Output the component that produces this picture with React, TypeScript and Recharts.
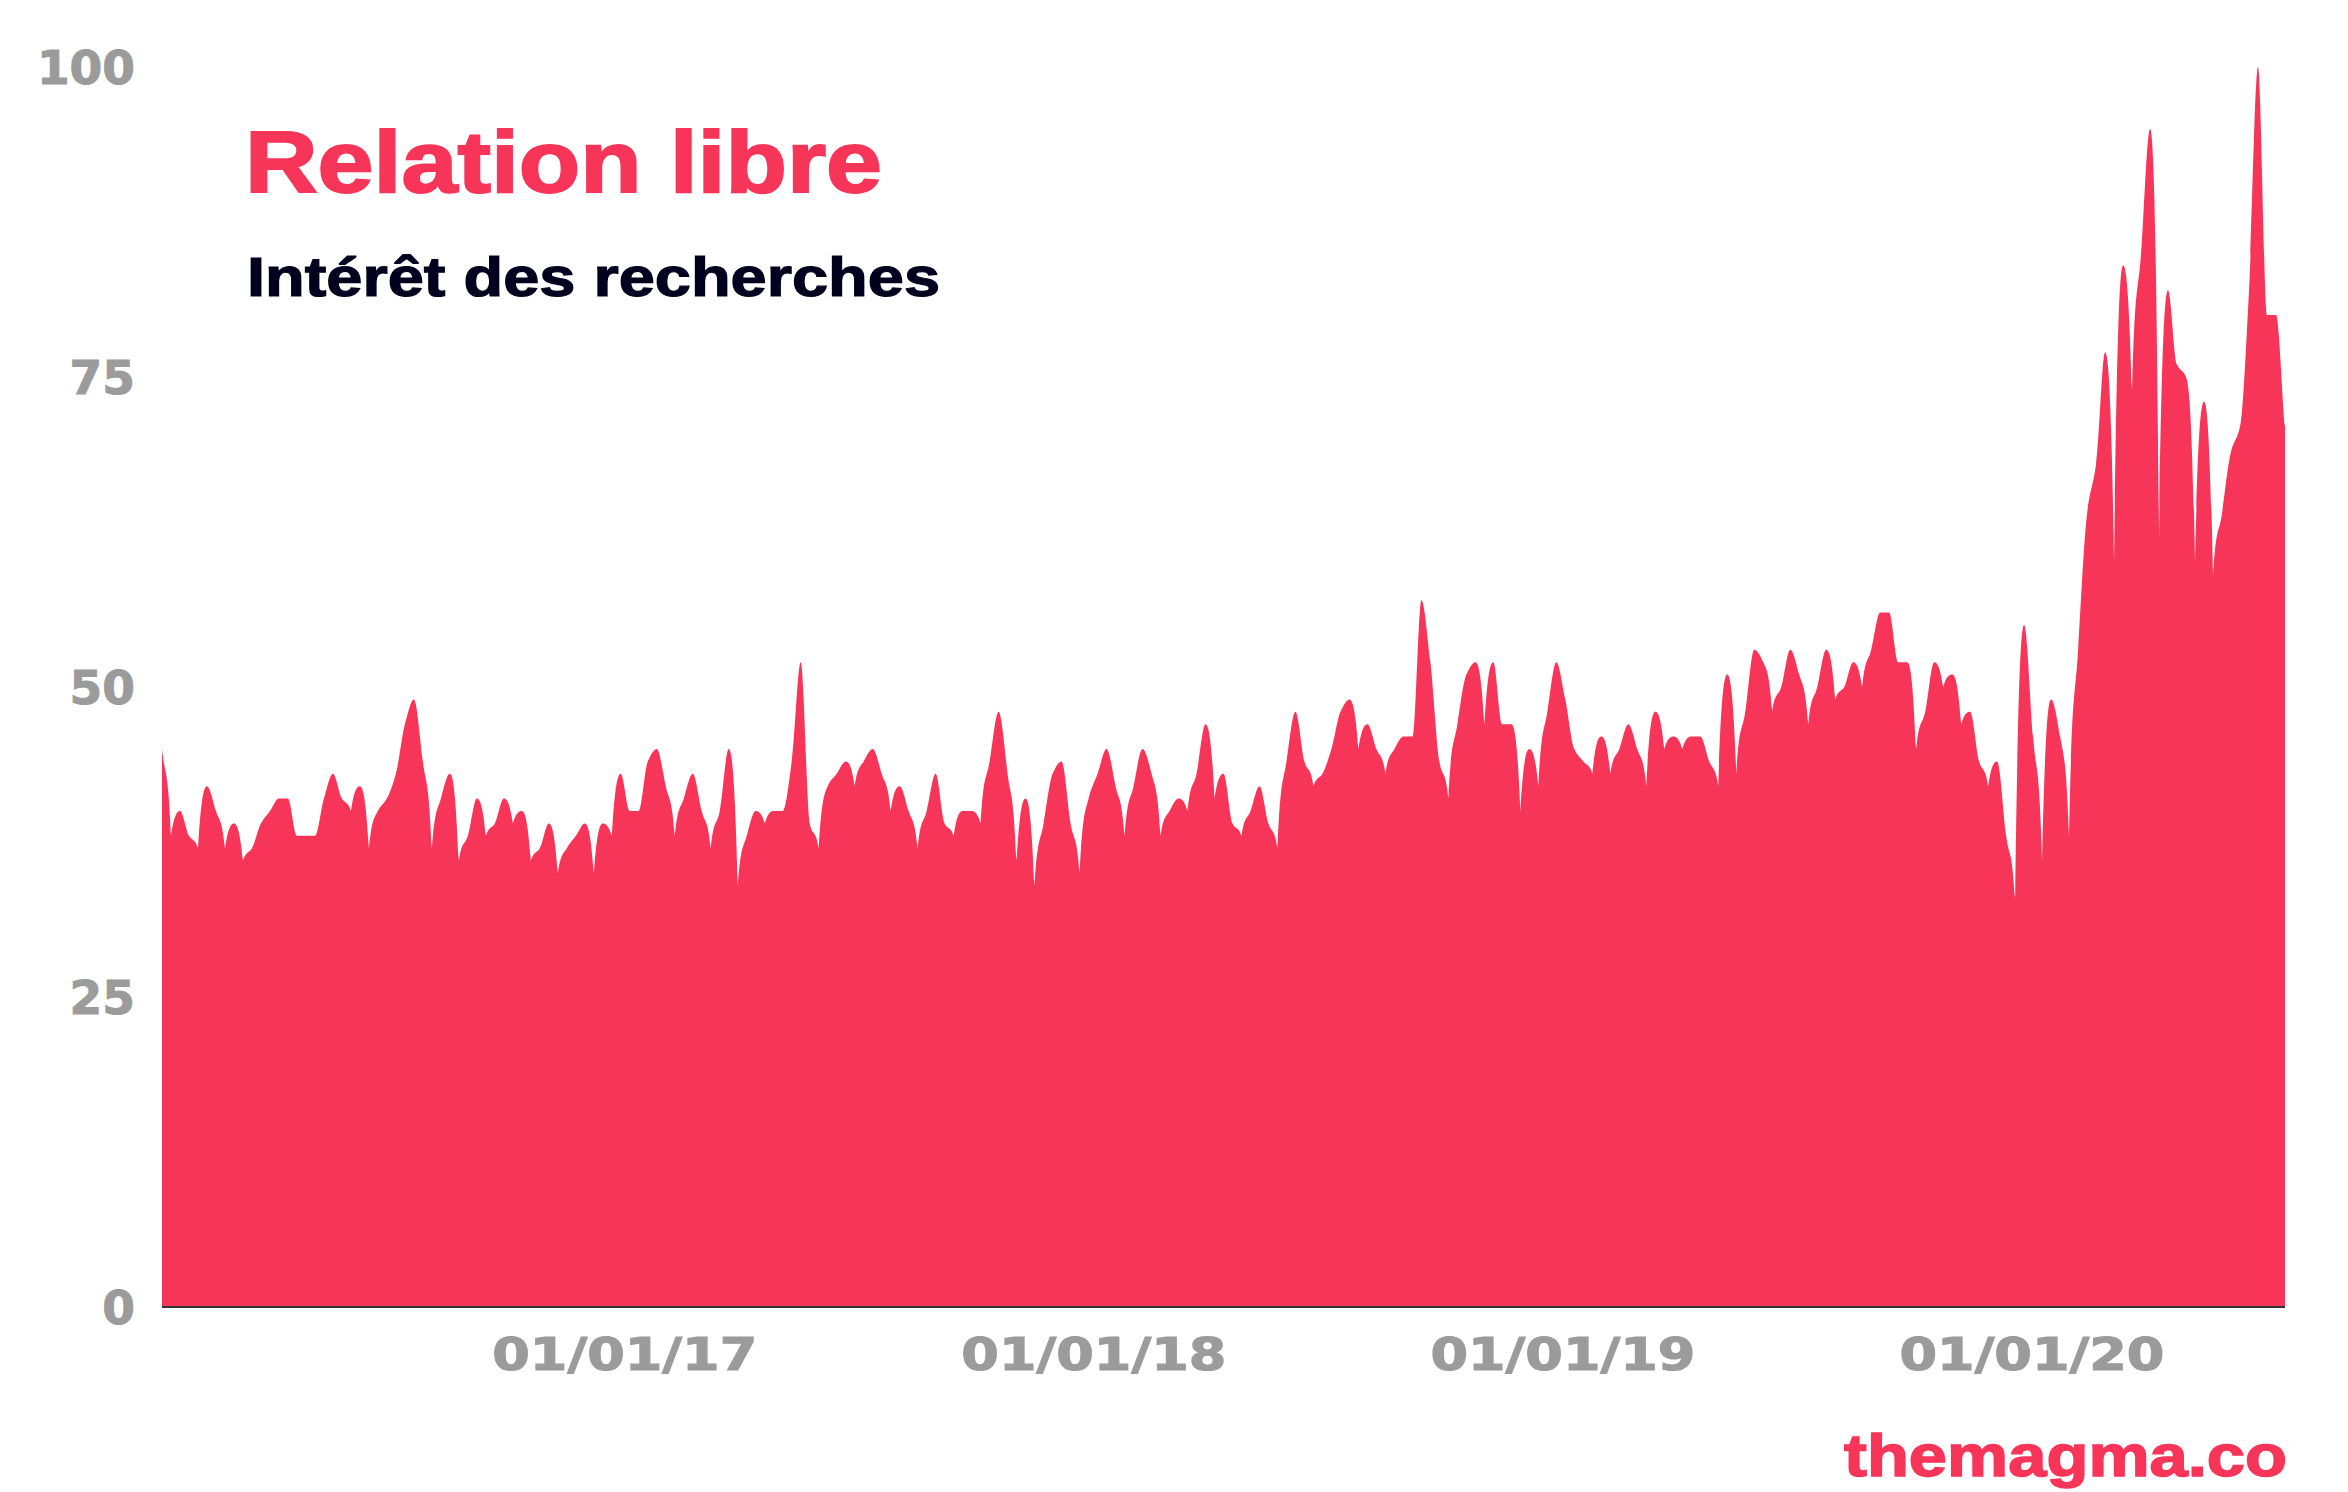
import React from "react";
import { AreaChart, Area, XAxis, YAxis } from "recharts";

// weekly google trends index, first week = 10/01/2016
const START_DATE = Date.UTC(2016, 0, 10);
const WEEK_MS = 7 * 24 * 3600 * 1000;

const interest = [
  45, 38, 40, 38, 37, 42, 40, 37, 39, 36,
  37, 39, 40, 41, 41, 38, 38, 38, 41, 43,
  41, 40, 42, 37, 40, 41, 43, 47, 49, 44,
  37, 41, 43, 36, 38, 41, 38, 39, 41, 39,
  40, 36, 37, 39, 35, 37, 38, 39, 35, 39,
  38, 43, 40, 40, 44, 45, 42, 38, 41, 43,
  40, 37, 40, 45, 34, 38, 40, 39, 40, 40,
  44, 52, 39, 37, 42, 43, 44, 42, 44, 45,
  43, 40, 42, 40, 37, 40, 43, 39, 38, 40,
  40, 39, 44, 48, 43, 36, 41, 34, 39, 43,
  44, 39, 35, 41, 43, 45, 42, 38, 42, 45,
  43, 38, 40, 41, 40, 43, 47, 41, 43, 39,
  38, 40, 42, 39, 37, 44, 48, 44, 42, 43,
  45, 48, 49, 45, 47, 45, 43, 45, 46, 46,
  57, 52, 44, 41, 47, 51, 52, 47, 52, 47,
  47, 40, 45, 42, 48, 52, 49, 45, 44, 43,
  46, 43, 45, 47, 45, 42, 48, 45, 46, 45,
  46, 46, 44, 42, 51, 43, 48, 53, 52, 48,
  50, 53, 51, 47, 50, 53, 49, 50, 52, 50,
  53, 56, 56, 52, 52, 45, 48, 52, 50, 51,
  47, 48, 44, 42, 44, 38, 33, 55, 46, 36,
  49, 46, 38, 53, 64, 68, 77, 60, 84, 74,
  85, 95, 62, 82, 76, 75, 60, 73, 59, 64,
  69, 71, 82, 100, 80, 80, 71,
];

const yTicks = [0, 25, 50, 75, 100];
const xTickDates = [
  Date.UTC(2017, 0, 1),
  Date.UTC(2018, 0, 1),
  Date.UTC(2019, 0, 1),
  Date.UTC(2020, 0, 1),
];
const xTickLabels = ["01/01/17", "01/01/18", "01/01/19", "01/01/20"];

const title = "Relation libre";
const subtitle = "Intérêt des recherches";
const watermark = "themagma.co";

const data = interest.map((v, i) => ({ t: START_DATE + i * WEEK_MS, v }));

const PINK = "#F73559";
const GREY = "#9b9b9b";

// curve with rounded tops and sharp dips, like the original graphic
const CUSP = 2.5;
class ArcCurve {
  _context: any;
  _line: number = NaN;
  _xs: number[] = [];
  _ys: number[] = [];
  constructor(context: any) {
    this._context = context;
  }
  areaStart() {
    this._line = 0;
  }
  areaEnd() {
    this._line = NaN;
  }
  lineStart() {
    this._xs = [];
    this._ys = [];
  }
  point(x: number, y: number) {
    this._xs.push(+x);
    this._ys.push(+y);
  }
  lineEnd() {
    const xs = this._xs;
    const ys = this._ys;
    const n = xs.length;
    const ctx = this._context;
    if (n) {
      if (this._line) ctx.lineTo(xs[0], ys[0]);
      else ctx.moveTo(xs[0], ys[0]);
      const s: number[] = [];
      for (let i = 0; i < n - 1; i++) {
        const dx = xs[i + 1] - xs[i];
        s.push(dx ? (ys[i + 1] - ys[i]) / dx : 0);
      }
      const mL: number[] = [];
      const mR: number[] = [];
      for (let i = 0; i < n; i++) {
        if (i === 0) {
          mL.push(0);
          mR.push(n > 1 ? s[0] : 0);
          continue;
        }
        if (i === n - 1) {
          mL.push(s[n - 2]);
          mR.push(0);
          continue;
        }
        const a = s[i - 1];
        const b = s[i];
        if (a > 0 && b < 0) {
          // dip (screen y goes down then up)
          mL.push(CUSP * a);
          mR.push(CUSP * b);
        } else if (a * b <= 0) {
          mL.push(0);
          mR.push(0);
        } else {
          const m = (2 * a * b) / (a + b);
          mL.push(m);
          mR.push(m);
        }
      }
      for (let i = 0; i < n - 1; i++) {
        const dx = xs[i + 1] - xs[i];
        ctx.bezierCurveTo(
          xs[i] + dx / 3,
          ys[i] + (mR[i] * dx) / 3,
          xs[i + 1] - dx / 3,
          ys[i + 1] - (mL[i + 1] * dx) / 3,
          xs[i + 1],
          ys[i + 1]
        );
      }
    }
    if (this._line || (this._line !== 0 && n === 1)) ctx.closePath();
    this._line = 1 - this._line;
  }
}
const arcCurve = (context: any) => new ArcCurve(context);

const XTick = ({ x, y, payload }: any) => {
  const idx = xTickDates.indexOf(payload.value);
  return (
    <text
      x={x + 4}
      y={y}
      dy={33}
      textAnchor="middle"
      fill={GREY}
      stroke={GREY}
      strokeWidth={1.2}
      fontFamily="DejaVu Sans"
      fontWeight="bold"
      fontSize={45}
      textLength={265}
      lengthAdjust="spacingAndGlyphs"
    >
      {xTickLabels[idx]}
    </text>
  );
};

const YTick = ({ x, y, payload }: any) => (
  <text
    x={x}
    y={y}
    dy={17}
    textAnchor="end"
    fill={GREY}
    stroke={GREY}
    strokeWidth={1}
    fontFamily="DejaVu Sans"
    fontWeight="bold"
    fontSize={47}
  >
    {payload.value}
  </text>
);

export default function App() {
  return (
    <div
      style={{
        position: "absolute",
        left: 0,
        top: 0,
        width: 2348,
        height: 1492,
        background: "#fff",
      }}
    >
      <AreaChart
        width={2348}
        height={1492}
        data={data}
        margin={{ top: 67, right: 63, left: 0, bottom: 0 }}
      >
        <XAxis
          dataKey="t"
          type="number"
          domain={[data[0].t, data[data.length - 1].t]}
          ticks={xTickDates}
          tick={<XTick />}
          tickLine={false}
          tickSize={0}
          tickMargin={30}
          height={185}
          axisLine={{ stroke: "#333", strokeWidth: 2 }}
        />
        <YAxis
          type="number"
          domain={[0, 100]}
          ticks={yTicks}
          tick={<YTick />}
          tickLine={false}
          tickSize={0}
          tickMargin={27}
          axisLine={false}
          width={162}
        />
        <Area
          type={arcCurve as any}
          dataKey="v"
          stroke="none"
          fill={PINK}
          fillOpacity={1}
          isAnimationActive={false}
        />
      </AreaChart>
      <svg
        width={2348}
        height={1492}
        style={{ position: "absolute", left: 0, top: 0, pointerEvents: "none" }}
      >
        <text
          x={245}
          y={192}
          fill={PINK}
          stroke={PINK}
          strokeWidth={2}
          fontFamily="Liberation Sans"
          fontWeight="bold"
          fontSize={88}
          textLength={637}
          lengthAdjust="spacingAndGlyphs"
        >
          {title}
        </text>
        <text
          x={247}
          y={296}
          fill="#02021f"
          stroke="#02021f"
          strokeWidth={1.2}
          fontFamily="Liberation Sans"
          fontWeight="bold"
          fontSize={55}
          textLength={693}
          lengthAdjust="spacingAndGlyphs"
        >
          {subtitle}
        </text>
        <text
          x={1844}
          y={1476}
          fill={PINK}
          stroke={PINK}
          strokeWidth={1.5}
          fontFamily="Liberation Sans"
          fontWeight="bold"
          fontSize={59}
          textLength={443}
          lengthAdjust="spacingAndGlyphs"
        >
          {watermark}
        </text>
      </svg>
    </div>
  );
}
